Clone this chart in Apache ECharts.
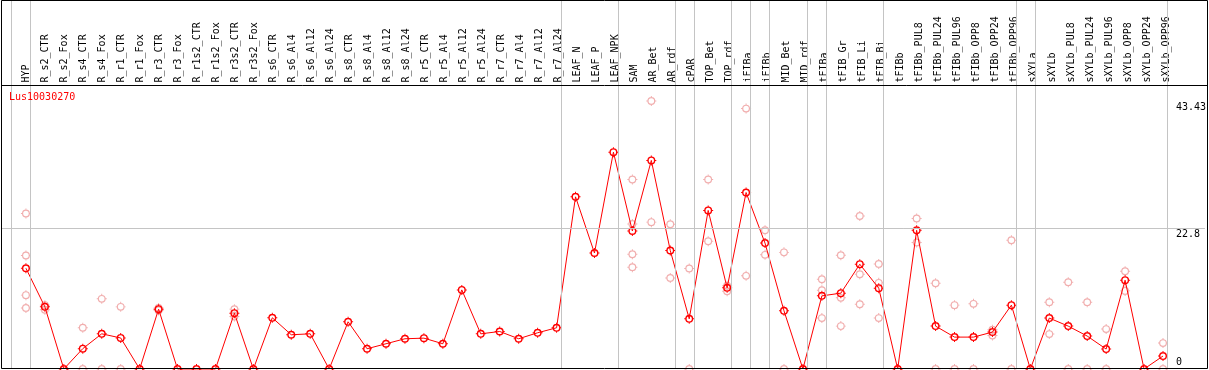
<!DOCTYPE html>
<html>
<head>
<meta charset="utf-8">
<script src="https://cdn.jsdelivr.net/npm/echarts@6/dist/echarts.min.js"></script>
<style>html,body{margin:0;padding:0;background:#fff}#c{width:1209px;height:370px}</style>
</head>
<body>
<div id="c"></div>
<script>
// ---------------- data ----------------
const geneId = 'Lus10030270';
const categories = ['HYP','R_s2_CTR','R_s2_Fox','R_s4_CTR','R_s4_Fox','R_r1_CTR','R_r1_Fox','R_r3_CTR','R_r3_Fox','R_r1s2_CTR','R_r1s2_Fox','R_r3s2_CTR','R_r3s2_Fox','R_s6_CTR','R_s6_Al4','R_s6_Al12','R_s6_Al24','R_s8_CTR','R_s8_Al4','R_s8_Al12','R_s8_Al24','R_r5_CTR','R_r5_Al4','R_r5_Al12','R_r5_Al24','R_r7_CTR','R_r7_Al4','R_r7_Al12','R_r7_Al24','LEAF_N','LEAF_P','LEAF_NPK','SAM','AR_Bet','AR_rdf','cPAR','TOP_Bet','TOP_rdf','iFIBa','iFIBb','MID_Bet','MID_rdf','tFIBa','tFIB_Gr','tFIB_Li','tFIB_Bi','tFIBb','tFIBb_PUL8','tFIBb_PUL24','tFIBb_PUL96','tFIBb_OPP8','tFIBb_OPP24','tFIBb_OPP96','sXYLa','sXYLb','sXYLb_PUL8','sXYLb_PUL24','sXYLb_PUL96','sXYLb_OPP8','sXYLb_OPP24','sXYLb_OPP96'];
const meanValues = [16.33,10.07,0,3.3,5.7,5.03,0,9.7,0,0,0,9.05,0,8.3,5.55,5.7,0,7.65,3.28,4.09,4.9,5.0,4.09,12.82,5.7,6.08,4.9,5.87,6.68,27.9,18.8,35.14,22.36,33.8,19.2,8.13,25.7,13.15,28.6,20.4,9.43,0,11.85,12.29,16.98,13.1,0,22.48,6.95,5.17,5.17,5.98,10.35,0,8.25,6.95,5.34,3.23,14.39,0,2.1];
const replicates = [
  [25.2,18.4,11.97,9.9],[10.35,9.6],[],[6.68,0],[11.37,0],[10.07,0],[],[9.9,9.5],[],[],
  [],[9.7,8.5],[],[],[],[],[],[],[],[],
  [],[],[],[],[],[],[],[],[],[],
  [],[],[30.7,23.5,18.6,16.5],[43.43,23.8],[23.45,14.76],[16.3,0],[30.7,20.7],[13.5,12.6],[42.2,15.1],[22.5,18.5],
  [18.9,0],[],[14.55,12.77,8.25],[18.43,11.53,6.95],[24.8,15.36,10.5],[17.03,13.96,8.25],[],[24.4,20.5],[13.9,0],[10.35,0],
  [10.56,0],[6.36,5.43],[20.86,0],[],[10.83,5.66],[14.07,0],[10.83,0],[6.47,0],[15.85,12.66],[],
  [4.2,0]
];
const groupBreaks = [-1,0,28,31,34,35,37,38,39,41,42,45,52,53,60];
const yTickValues = [0,22.8,43.43];
const midLine = 22.8;

// ---------------- layout ----------------
const FONT = 'DejaVu Sans Mono';
const STEP = 19, FIRST_X = 26;
const PLOT_L = 1, PLOT_R = 1208, PLOT_B = 369, HEADER = 85.5;
const PX_PER_UNIT = 6.171;
const xMin = -(FIRST_X - PLOT_L) / STEP;
const xMax = xMin + (PLOT_R - PLOT_L) / STEP;
const yMax = PLOT_B / PX_PER_UNIT;

// ring with four short stubs, drawn in a 10x10 box
const mainSymbol = 'path://M1,5A4,4,0,1,1,9,5A4,4,0,1,1,1,5ZM2.4,5A2.6,2.6,0,1,0,7.6,5A2.6,2.6,0,1,0,2.4,5ZM4.5,0H5.5V1.2H4.5ZM4.5,8.8H5.5V10H4.5ZM0,4.5H1.2V5.5H0ZM8.8,4.5H10V5.5H8.8Z';
const repSymbol = 'path://M1.3,5A3.7,3.7,0,1,1,8.7,5A3.7,3.7,0,1,1,1.3,5ZM2.4,5A2.6,2.6,0,1,0,7.6,5A2.6,2.6,0,1,0,2.4,5ZM4.55,0.3H5.45V1.4H4.55ZM4.55,8.6H5.45V9.7H4.55ZM0.3,4.55H1.4V5.45H0.3ZM8.6,4.55H9.7V5.45H8.6Z';

const meanData = meanValues.map((v, i) => [i, v]);
const repData = [];
replicates.forEach((arr, i) => arr.forEach(v => repData.push([i, v])));

const chart = echarts.init(document.getElementById('c'), null, {renderer: 'canvas'});
chart.setOption({
  animation: false,
  backgroundColor: '#fff',
  title: {
    text: geneId, left: 9, top: 92, padding: 0,
    textStyle: {color: '#ff0000', fontFamily: FONT, fontSize: 10, fontWeight: 'normal'}
  },
  grid: [
    {left: PLOT_L, right: 1209 - PLOT_R, top: 0, bottom: 370 - PLOT_B, show: false},
    {left: FIRST_X - STEP / 2, width: STEP * categories.length, top: HEADER, bottom: 370 - PLOT_B, show: false}
  ],
  xAxis: [
    {gridIndex: 0, type: 'value', min: xMin, max: xMax, show: false},
    {gridIndex: 1, type: 'category', data: categories, position: 'top', boundaryGap: true,
     axisLine: {show: false}, axisTick: {show: false}, splitLine: {show: false},
     axisLabel: {rotate: 90, interval: 0, margin: 3, fontFamily: FONT, fontSize: 10, color: '#000'}}
  ],
  yAxis: [
    {gridIndex: 0, type: 'value', min: 0, max: yMax, position: 'right',
     axisLine: {show: false}, axisTick: {show: false}, splitLine: {show: false},
     axisLabel: {inside: true, customValues: yTickValues, margin: 29, align: 'left',
       fontFamily: FONT, fontSize: 10, color: '#000',
       formatter: v => v === 0 ? '{b|0}' : '{t|' + v + '}',
       rich: {
         b: {fontFamily: FONT, fontSize: 10, color: '#000', padding: [0, 0, 14, 0]},
         t: {fontFamily: FONT, fontSize: 10, color: '#000', padding: [12, 0, 0, 0]}
       }}},
    {gridIndex: 1, type: 'value', show: false}
  ],
  graphic: [
    {type: 'rect', z: 100, silent: true, shape: {x: 1.5, y: 0.5, width: 1206, height: 368},
     style: {fill: 'none', stroke: '#000', lineWidth: 1}},
    {type: 'line', z: 100, silent: true, shape: {x1: 1, y1: HEADER, x2: 1208, y2: HEADER},
     style: {stroke: '#000', lineWidth: 1}}
  ],
  series: [
    {type: 'scatter', xAxisIndex: 0, yAxisIndex: 0, data: repData, symbol: repSymbol, symbolSize: 10,
     itemStyle: {color: '#ee9a9a', borderWidth: 0}, silent: true, clip: false, z: 2,
     markLine: {silent: true, symbol: ['none', 'none'], label: {show: false}, animation: false,
       lineStyle: {color: '#c4c4c4', width: 1, type: 'solid'},
       emphasis: {disabled: true},
       data: groupBreaks.map(b => ({xAxis: b + 0.24})).concat([{yAxis: midLine}])}},
    {type: 'line', xAxisIndex: 0, yAxisIndex: 0, data: meanData, symbol: mainSymbol, symbolSize: 10,
     showAllSymbol: true, clip: false, silent: true, z: 3,
     lineStyle: {color: '#ff0000', width: 1}, itemStyle: {color: '#ff0000', borderWidth: 0}},
    {type: 'line', xAxisIndex: 1, yAxisIndex: 1, data: [], silent: true}
  ]
});
</script>
</body>
</html>
